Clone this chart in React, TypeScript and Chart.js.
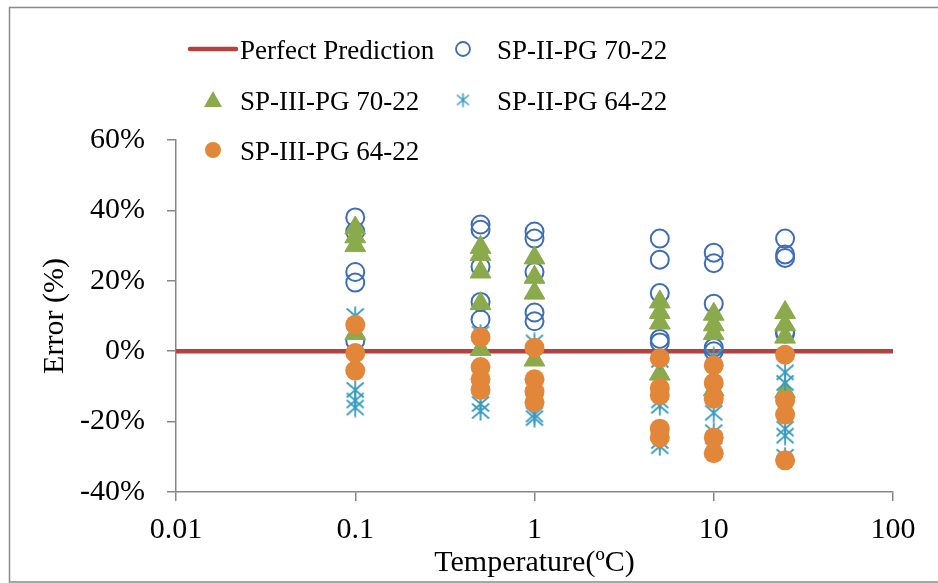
import React, { useEffect, useRef } from "react";
import { Chart, registerables } from "chart.js";

Chart.register(...registerables);

// ---- data (percent error) ----
const temperatures = [0.1, 0.5, 1, 5, 10, 25];
const perfectX = [0.01, 100];
const perfectY = [0, 0];
// one inner list per temperature
const spII7022 = [
  [38, 34, 22.5, 19.5, 3],
  [36, 34.5, 24, 14, 9],
  [34, 32, 22.5, 11, 8.5],
  [32, 26, 16.5, 3.5, 2.5],
  [28, 25, 13.5, 1, 0],
  [32, 27.5, 26.5, 5.5, 5],
];
const spIII7022 = [
  [35, 32.5, 30, 5],
  [29.5, 27.5, 22.5, 13.5, 0.5],
  [26.5, 21, 16.5, -2.5],
  [14, 11, 8, -6.5],
  [10.5, 7.5, 5, -11],
  [11, 7.5, 4, -11.5],
];
const spII6422 = [
  [10, -11, -14, -16],
  [5, -15, -17],
  [2.5, -18, -19],
  [-2.5, -14, -15.5, -25.5, -27],
  [-1.5, -17.5, -23, -28],
  [-6, -9, -22, -24, -30],
];
const spIII6422 = [
  [7.5, -0.5, -5.5],
  [4, -4.5, -8, -11],
  [1, -8, -11.5, -14.5],
  [-2, -10.5, -12.5, -22, -24.5],
  [-4, -9, -13.5, -24.5, -29],
  [-1, -14, -18, -31],
];
const xTicks = [0.01, 0.1, 1, 10, 100];
const yMin = -40;
const yMax = 60;
const yStep = 20;
const seriesNames = [
  "Perfect Prediction",
  "SP-II-PG 70-22",
  "SP-III-PG 70-22",
  "SP-II-PG 64-22",
  "SP-III-PG 64-22",
];

// ---- styles ----
const FONT = '"Liberation Serif", "Times New Roman", serif';
const AXIS = "#868686";
const C_RED = "#B3413F";
const C_BLUE = "#3F6DB3";
const C_GREEN = "#8AAA4C";
const C_AQUA = "#3A9BBE";
const C_ORANGE = "#E2863A";

function toPoints(groups: number[][]) {
  const pts: { x: number; y: number }[] = [];
  groups.forEach((vals, i) => vals.forEach((v) => pts.push({ x: temperatures[i], y: v })));
  return pts;
}

function makeStar(size: number, color: string, lw: number) {
  const c = document.createElement("canvas");
  c.width = size;
  c.height = size;
  const g = c.getContext("2d")!;
  g.strokeStyle = color;
  g.lineWidth = lw;
  g.lineCap = "butt";
  const m = 1.5;
  g.beginPath();
  g.moveTo(size / 2, 0.5);
  g.lineTo(size / 2, size - 0.5);
  g.moveTo(m, m + 1);
  g.lineTo(size - m, size - m - 1);
  g.moveTo(size - m, m + 1);
  g.lineTo(m, size - m - 1);
  g.stroke();
  return c;
}

const decorPlugin = {
  id: "decor",
  beforeDraw(chart: any) {
    const ctx = chart.ctx;
    ctx.save();
    ctx.fillStyle = "#ffffff";
    ctx.fillRect(0, 0, chart.width, chart.height);
    ctx.strokeStyle = "#8a8a8a";
    ctx.lineWidth = 1.5;
    ctx.strokeRect(9.5, 7.5, chart.width + 10, 574.5);
    ctx.restore();
  },
  afterDraw(chart: any) {
    const ctx = chart.ctx;
    ctx.save();
    ctx.font = `27px ${FONT}`;
    ctx.fillStyle = "#000";
    ctx.textBaseline = "alphabetic";
    ctx.textAlign = "left";
    // row 1
    ctx.strokeStyle = C_RED;
    ctx.lineWidth = 4.5;
    ctx.lineCap = "round";
    ctx.beginPath();
    ctx.moveTo(190, 49);
    ctx.lineTo(236, 49);
    ctx.stroke();
    ctx.fillText(seriesNames[0], 240, 59);
    ctx.strokeStyle = C_BLUE;
    ctx.lineWidth = 1.8;
    ctx.beginPath();
    ctx.arc(463, 49, 7, 0, Math.PI * 2);
    ctx.stroke();
    ctx.fillText(seriesNames[1], 497, 59);
    // row 2
    ctx.fillStyle = C_GREEN;
    ctx.beginPath();
    ctx.moveTo(213, 91);
    ctx.lineTo(222, 107);
    ctx.lineTo(204, 107);
    ctx.closePath();
    ctx.fill();
    ctx.fillStyle = "#000";
    ctx.fillText(seriesNames[2], 240, 110);
    ctx.drawImage(makeStar(15, C_AQUA, 1.6), 463 - 7.5, 100 - 7.5);
    ctx.fillText(seriesNames[3], 497, 110);
    // row 3
    ctx.fillStyle = C_ORANGE;
    ctx.beginPath();
    ctx.arc(213, 150, 8, 0, Math.PI * 2);
    ctx.fill();
    ctx.fillStyle = "#000";
    ctx.fillText(seriesNames[4], 240, 160);
    ctx.restore();
  },
};

export default function App() {
  const ref = useRef<HTMLCanvasElement | null>(null);

  useEffect(() => {
    if (!ref.current) return;
    const starImg = makeStar(20, C_AQUA, 1.8);
    const chart = new Chart(ref.current, {
      type: "scatter",
      data: {
        datasets: [
          {
            label: seriesNames[0],
            data: perfectX.map((x, i) => ({ x, y: perfectY[i] })),
            showLine: true,
            borderColor: C_RED,
            borderWidth: 4.5,
            pointRadius: 0,
            order: 5,
          },
          {
            label: seriesNames[1],
            data: toPoints(spII7022),
            pointStyle: "circle",
            pointRadius: 9,
            borderWidth: 2,
            borderColor: C_BLUE,
            backgroundColor: "rgba(0,0,0,0)",
            order: 4,
          },
          {
            label: seriesNames[2],
            data: toPoints(spIII7022),
            pointStyle: "triangle",
            pointRadius: 12,
            borderWidth: 1,
            borderColor: C_GREEN,
            backgroundColor: C_GREEN,
            order: 3,
          },
          {
            label: seriesNames[3],
            data: toPoints(spII6422),
            pointStyle: starImg as any,
            pointRadius: 10,
            borderColor: C_AQUA,
            backgroundColor: C_AQUA,
            order: 2,
          },
          {
            label: seriesNames[4],
            data: toPoints(spIII6422),
            pointStyle: "circle",
            pointRadius: 10,
            borderWidth: 0,
            backgroundColor: C_ORANGE,
            borderColor: C_ORANGE,
            order: 1,
          },
        ] as any,
      },
      options: {
        animation: false,
        responsive: false,
        devicePixelRatio: 1,
        events: [],
        layout: { padding: { top: 140, right: 45, left: 0, bottom: 0 } },
        plugins: { legend: { display: false }, tooltip: { enabled: false } },
        scales: {
          x: {
            type: "logarithmic",
            min: 0.01,
            max: 100,
            afterBuildTicks: (s: any) => {
              s.ticks = xTicks.map((v) => ({ value: v }));
            },
            afterFit: (s: any) => {
              s.height = 91;
            },
            grid: {
              display: true,
              drawOnChartArea: false,
              drawTicks: true,
              tickLength: 9,
              color: AXIS,
              lineWidth: 1.5,
            },
            border: { display: true, color: AXIS, width: 1.5 },
            ticks: {
              color: "#000",
              font: { family: FONT, size: 30, lineHeight: 1 },
              padding: 14,
              maxRotation: 0,
              autoSkip: false,
              callback: (v: any) => String(v),
            },
            title: {
              display: true,
              text: "Temperature(ºC)",
              color: "#000",
              font: { family: FONT, size: 30, lineHeight: 1 },
              padding: { top: 0, bottom: 5 },
            },
          },
          y: {
            type: "linear",
            min: yMin,
            max: yMax,
            afterFit: (s: any) => {
              s.width = 176;
            },
            grid: {
              display: true,
              drawOnChartArea: false,
              drawTicks: true,
              tickLength: 9,
              color: AXIS,
              lineWidth: 1.5,
            },
            border: { display: true, color: AXIS, width: 1.5 },
            ticks: {
              stepSize: yStep,
              color: "#000",
              font: { family: FONT, size: 30, lineHeight: 1 },
              padding: 22,
              callback: (v: any) => `${v}%`,
            },
            title: {
              display: true,
              text: "Error (%)",
              color: "#000",
              font: { family: FONT, size: 30, lineHeight: 1 },
              padding: { top: 40, bottom: 0 },
            },
          },
        },
      } as any,
      plugins: [decorPlugin],
    });
    return () => chart.destroy();
  }, []);

  return (
    <div style={{ position: "absolute", left: 0, top: 0, width: 938, height: 583 }}>
      <canvas ref={ref} width={938} height={583} style={{ display: "block" }} />
    </div>
  );
}
